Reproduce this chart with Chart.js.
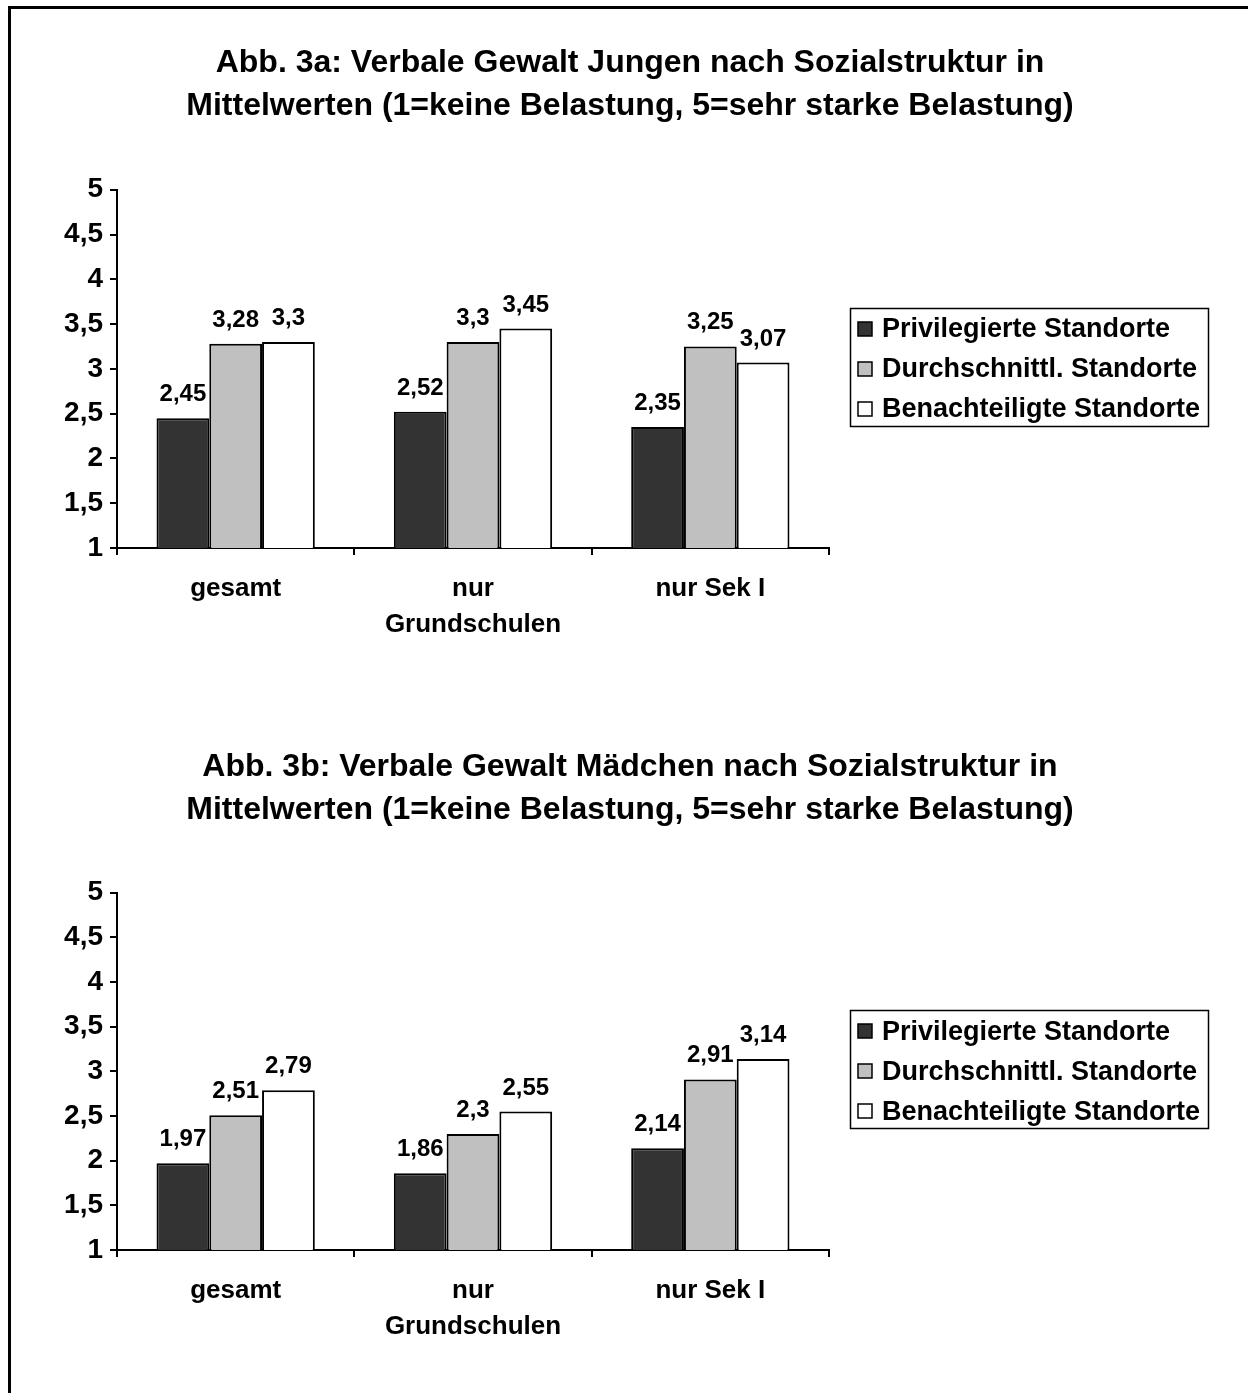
<!DOCTYPE html>
<html>
<head>
<meta charset="utf-8">
<script src="https://cdn.jsdelivr.net/npm/chart.js@4.4.1/dist/chart.umd.min.js"></script>
<style>
  html, body { margin: 0; padding: 0; background: #fff; overflow: hidden; }
  body { width: 1248px; height: 1393px; position: relative; }
  .wrap { position: absolute; left: 0; width: 1248px; }
  canvas { display: block; }
  #frame {
    position: absolute; left: 8px; top: 6px; width: 1400px; height: 1500px;
    border-top: 3px solid #000; border-left: 3px solid #000; pointer-events: none;
  }
</style>
</head>
<body>
<div class="wrap" style="top:0;height:660px"><canvas id="chartJungen" width="1248" height="660"></canvas></div>
<div class="wrap" style="top:660px;height:733px"><canvas id="chartMaedchen" width="1248" height="733"></canvas></div>
<div id="frame"></div>
<script>
// Categories and series
const categories = ['gesamt', ['nur', 'Grundschulen'], 'nur Sek I'];
const seriesNames = ['Privilegierte Standorte', 'Durchschnittl. Standorte', 'Benachteiligte Standorte'];

const jungenPrivilegiert = [2.45, 2.52, 2.35];
const jungenDurchschnitt = [3.28, 3.30, 3.25];
const jungenBenachteiligt = [3.30, 3.45, 3.07];

const maedchenPrivilegiert = [1.97, 1.86, 2.14];
const maedchenDurchschnitt = [2.51, 2.30, 2.91];
const maedchenBenachteiligt = [2.79, 2.55, 3.14];

const yTickValues = [1, 1.5, 2, 2.5, 3, 3.5, 4, 4.5, 5];

const titleJungen = ['Abb. 3a: Verbale Gewalt Jungen nach Sozialstruktur in',
                     'Mittelwerten (1=keine Belastung, 5=sehr starke Belastung)'];
const titleMaedchen = ['Abb. 3b: Verbale Gewalt Mädchen nach Sozialstruktur in',
                       'Mittelwerten (1=keine Belastung, 5=sehr starke Belastung)'];

const FONT = 'Arial, "Liberation Sans", Helvetica, sans-serif';
const fillColors = ['#333333', '#c0c0c0', '#ffffff'];

function fmt(v) {
  return String(v).replace('.', ',');
}

// Value labels above each bar
const valueLabels = {
  id: 'valueLabels',
  afterDatasetsDraw(chart) {
    const ctx = chart.ctx;
    ctx.save();
    ctx.font = 'bold 24px ' + FONT;
    ctx.fillStyle = '#000';
    ctx.textAlign = 'center';
    ctx.textBaseline = 'alphabetic';
    chart.data.datasets.forEach((ds, di) => {
      chart.getDatasetMeta(di).data.forEach((bar, i) => {
        ctx.fillText(fmt(ds.data[i]), bar.x, bar.y - 17);
      });
    });
    ctx.restore();
  }
};

// Title centred across the whole canvas width
const titleSpan = {
  id: 'titleSpan',
  afterLayout(chart) {
    if (chart.titleBlock) {
      chart.titleBlock.left = 12;
      chart.titleBlock.right = chart.width;
    }
  }
};

// Boxed legend to the right of the plot area, built from the datasets
const boxedLegend = {
  id: 'boxedLegend',
  afterDraw(chart) {
    const ctx = chart.ctx;
    const area = chart.chartArea;
    const rowGap = 40;
    const n = chart.data.datasets.length;
    const cy = (area.top + area.bottom) / 2;
    const boxLeft = area.right + 21;
    const swatchX = boxLeft + 8;
    const textX = swatchX + 24;
    ctx.save();
    ctx.font = 'bold 27px ' + FONT;
    let maxW = 0;
    chart.data.datasets.forEach(ds => { maxW = Math.max(maxW, ctx.measureText(ds.label).width); });
    const boxTop = Math.round(cy - rowGap * (n - 1) / 2 - 21);
    const boxH = Math.round(rowGap * (n - 1) + 38);
    const boxW = Math.round(textX + maxW + 8 - boxLeft);
    ctx.strokeStyle = '#000';
    ctx.lineWidth = 1.5;
    ctx.strokeRect(Math.round(boxLeft) + 0.5, boxTop + 0.5, boxW, boxH);
    chart.data.datasets.forEach((ds, i) => {
      const y = cy + (i - (n - 1) / 2) * rowGap;
      ctx.fillStyle = ds.backgroundColor;
      ctx.fillRect(Math.round(swatchX), Math.round(y - 7), 14, 14);
      ctx.strokeStyle = '#000';
      ctx.lineWidth = 1.5;
      ctx.strokeRect(Math.round(swatchX), Math.round(y - 7), 14, 14);
      ctx.fillStyle = '#000';
      ctx.textAlign = 'left';
      ctx.textBaseline = 'middle';
      ctx.fillText(ds.label, textX, y + 1);
    });
    ctx.restore();
  }
};

function makeChart(id, title, priv, durch, benach, opts) {
  const seriesData = [priv, durch, benach];
  return new Chart(document.getElementById(id), {
    type: 'bar',
    data: {
      labels: categories,
      datasets: seriesNames.map((name, i) => ({
        label: name,
        data: seriesData[i],
        backgroundColor: fillColors[i],
        borderColor: '#000',
        borderWidth: 2,
        borderSkipped: 'bottom',
        categoryPercentage: 0.667,
        barPercentage: 1.0
      }))
    },
    options: {
      responsive: false,
      animation: false,
      devicePixelRatio: 1,
      layout: { padding: { left: 12, right: 419, top: 0, bottom: 0 } },
      plugins: {
        title: {
          display: true,
          text: title,
          color: '#000',
          font: { family: FONT, size: 32, weight: 'bold', lineHeight: 1.34 },
          padding: { top: opts.titleTop, bottom: 64 - (opts.titleTop - opts.titleBase) }
        },
        legend: { display: false },
        tooltip: { enabled: false }
      },
      scales: {
        x: {
          border: { display: true, color: '#000', width: 2 },
          grid: { display: true, drawOnChartArea: false, drawTicks: true, tickLength: 7, color: '#000', lineWidth: 2, offset: true },
          ticks: { color: '#000', padding: 16, maxRotation: 0, font: { family: FONT, size: 26, weight: 'bold', lineHeight: 1.385 } },
          afterFit(scale) { scale.height = opts.xHeight; }
        },
        y: {
          min: 1,
          max: 5,
          border: { display: true, color: '#000', width: 2 },
          grid: { display: true, drawOnChartArea: false, drawTicks: true, tickLength: 7, color: '#000', lineWidth: 2 },
          ticks: { color: '#000', padding: 7, font: { family: FONT, size: 28, weight: 'bold' }, callback: v => fmt(v) },
          afterBuildTicks(scale) { scale.ticks = yTickValues.map(v => ({ value: v })); },
          afterFit(scale) { scale.width = 105; }
        }
      }
    },
    plugins: [valueLabels, titleSpan, boxedLegend]
  });
}

makeChart('chartJungen', titleJungen, jungenPrivilegiert, jungenDurchschnitt, jungenBenachteiligt,
          { titleTop: 42, titleBase: 40, xHeight: 112 });
makeChart('chartMaedchen', titleMaedchen, maedchenPrivilegiert, maedchenDurchschnitt, maedchenBenachteiligt,
          { titleTop: 86, titleBase: 83, xHeight: 143 });
</script>
</body>
</html>
